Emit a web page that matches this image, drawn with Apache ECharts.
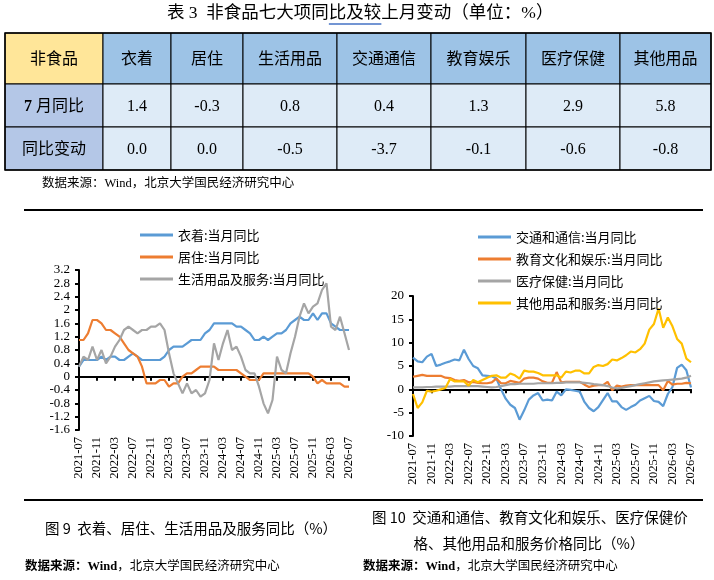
<!DOCTYPE html>
<html><head><meta charset="utf-8">
<script src="https://cdn.jsdelivr.net/npm/echarts@6/dist/echarts.min.js"></script>
<style>html,body{margin:0;padding:0;background:#fff}#c{width:714px;height:580px}</style>
</head><body><div id="c"></div>
<script>
// ---------- data ----------
const tableCols = ['非食品','衣着','居住','生活用品','交通通信','教育娱乐','医疗保健','其他用品'];
const rowLabels = ['{b|7} 月同比','同比变动'];
const yoyValues = ['1.4','-0.3','0.8','0.4','1.3','2.9','5.8'];
const changeValues = ['0.0','0.0','-0.5','-3.7','-0.1','-0.6','-0.8'];

const months = [];
for (let y = 2021, m = 7; !(y === 2026 && m > 7);) {
  months.push(y + '-' + String(m).padStart(2, '0'));
  m++; if (m > 12) { m = 1; y++; }
}

const leftNames = ['衣着:当月同比','居住:当月同比','生活用品及服务:当月同比'];
const clothing = [0.3,0.5,0.5,0.5,0.5,0.6,0.5,0.6,0.6,0.5,
  0.5,0.6,0.7,0.6,0.5,0.5,0.5,0.5,0.5,0.6,
  0.8,0.9,0.9,0.9,1.0,1.1,1.1,1.1,1.3,1.4,
  1.6,1.6,1.6,1.6,1.6,1.5,1.5,1.4,1.3,1.1,
  1.1,1.2,1.1,1.2,1.3,1.3,1.4,1.6,1.7,1.8,
  1.7,1.7,1.9,1.7,1.9,1.9,1.6,1.5,1.4,1.4,1.4];
const housing = [1.1,1.1,1.3,1.7,1.7,1.6,1.4,1.4,1.3,1.2,
  1.0,0.8,0.7,0.6,0.3,-0.2,-0.2,-0.2,-0.1,-0.1,
  -0.3,-0.2,-0.2,0.0,0.1,0.1,0.2,0.3,0.3,0.3,
  0.3,0.2,0.2,0.2,0.2,0.2,0.1,0.0,-0.1,-0.1,
  -0.1,0.1,0.1,0.1,0.1,0.1,0.1,0.1,0.1,0.1,
  0.1,0.1,0.0,-0.2,-0.1,-0.2,-0.2,-0.2,-0.2,-0.3,-0.3];
const household = [0.3,0.6,0.5,0.9,0.5,0.8,0.4,0.6,0.9,1.1,
  1.4,1.5,1.4,1.3,1.4,1.4,1.5,1.5,1.6,1.4,
  0.7,0.1,-0.2,-0.5,-0.2,-0.5,-0.4,-0.6,-0.5,-0.1,
  1.0,0.5,1.0,1.4,0.8,0.9,0.6,0.2,0.1,0.1,
  -0.3,-0.8,-1.1,-0.7,0.6,0.2,0.1,0.7,1.2,1.8,
  2.2,1.9,2.1,2.2,2.6,2.8,1.5,1.4,1.8,1.3,0.8];

const rightNames = ['交通和通信:当月同比','教育文化和娱乐:当月同比','医疗保健:当月同比','其他用品和服务:当月同比'];
const transport = [6.8,6.0,5.8,7.0,7.6,5.0,5.3,5.7,6.0,6.4,
  6.2,8.5,6.5,5.0,4.5,3.0,2.9,2.8,2.3,0.0,
  -2.0,-3.3,-4.0,-6.5,-4.5,-2.2,-1.3,-0.8,-2.4,-2.2,
  -2.4,-0.5,-1.3,0.0,-0.1,-0.3,-0.5,-2.7,-4.0,-4.7,
  -3.8,-2.3,-0.8,-2.6,-2.6,-3.8,-4.4,-3.8,-3.3,-2.4,
  -1.9,-1.4,-2.5,-2.7,-3.6,-1.0,0.5,4.6,5.3,4.1,0.4];
const education = [2.7,2.9,3.1,2.9,2.9,2.9,2.9,2.5,2.4,2.0,
  1.8,2.0,1.5,1.6,1.4,1.3,1.3,1.5,2.3,1.3,
  1.3,1.8,1.6,1.4,2.3,2.5,2.5,2.3,1.7,1.4,
  1.4,3.7,1.5,1.6,1.6,1.6,1.6,1.0,0.5,0.8,
  0.9,0.9,1.6,-0.2,0.8,0.6,0.8,0.9,0.9,0.9,
  0.9,0.9,0.9,0.9,-0.2,1.8,1.0,1.2,1.2,1.4,1.3];
const health = [0.4,0.4,0.4,0.5,0.5,0.6,0.6,0.6,0.6,0.7,
  0.7,0.7,0.7,0.7,0.7,0.6,0.5,0.4,0.5,0.7,
  0.9,1.1,1.1,1.2,1.2,1.2,1.2,1.3,1.3,1.3,
  1.3,1.4,1.4,1.5,1.5,1.5,1.5,1.4,1.3,1.1,
  1.0,0.9,0.7,0.4,0.2,0.3,0.5,0.7,0.9,1.1,
  1.3,1.5,1.7,1.8,1.9,2.0,2.1,2.2,2.3,2.5,2.9];
const others = [-1.0,-4.0,-2.8,-0.3,-0.5,-0.3,0.0,0.3,2.2,1.7,
  1.7,1.7,0.8,2.0,1.5,2.0,2.5,2.9,3.0,2.5,
  2.5,3.4,3.0,2.3,4.0,3.8,3.8,3.5,3.0,3.0,
  3.0,3.0,2.5,3.8,3.6,4.0,4.0,3.4,3.4,4.8,
  5.2,5.0,5.4,6.4,6.2,6.7,7.3,8.1,7.9,8.6,
  9.8,12.8,14.0,17.3,13.2,15.4,13.5,10.8,9.8,6.6,5.8];

const titlePre = '表 3  非食品七大项同';
const titleUnder = '比及较';
const titlePost = '上月变动（单位：%）';
const sourceText = '数据来源：Wind，北京大学国民经济研究中心';
const caption9 = '图 9  衣着、居住、生活用品及服务同比（%）';
const caption10a = '图 10  交通和通信、教育文化和娱乐、医疗保健价';
const caption10b = '格、其他用品和服务价格同比（%）';

// ---------- layout ----------
const SERIF = '"Liberation Serif","Noto Sans CJK SC"';
const SANS = '"Noto Sans CJK SC","Noto Sans"';
const colX = [5,103,171,243,337,431,526,620,711];
const rowY = [33,84,127,170];
const COLORS = ['#5B9BD5','#ED7D31','#A5A5A5','#FFC000'];

function txt(x, y, text, size, opts) {
  opts = opts || {};
  return {type:'text', x:x, y:y, z:10, style:Object.assign({
    text:text, fill:'#000', fontSize:size, fontFamily:opts.family || SANS,
    fontWeight:opts.weight || 'normal',
    align:opts.align || 'left', textAlign:opts.align || 'left',
    verticalAlign:'middle', textVerticalAlign:'middle'
  }, opts.extra || {})};
}

const g = [];
g.push({type:'rect', shape:{x:0,y:0,width:714,height:580}, style:{fill:'#fff'}, z:0});
// title with underline measured from the text itself
const TITLE_SIZE = 17.5, TITLE_X = 167;
const mctx = document.createElement('canvas').getContext('2d');
mctx.font = TITLE_SIZE + 'px ' + SERIF;
const preW = mctx.measureText(titlePre).width;
const undW = mctx.measureText(titleUnder).width;
g.push(txt(TITLE_X, 13, titlePre + titleUnder + titlePost, TITLE_SIZE, {family:SERIF}));
g.push({type:'line', shape:{x1:TITLE_X + preW, y1:24, x2:TITLE_X + preW + undW, y2:24},
  style:{stroke:'#4472C4', lineWidth:1.5}, z:10});

// table
for (let r = 0; r < 3; r++) {
  for (let c = 0; c < 8; c++) {
    let fill;
    if (r === 0) fill = c === 0 ? '#FFE699' : '#9DC3E6';
    else fill = c === 0 ? '#B4C7E7' : '#DEEBF7';
    g.push({type:'rect', z:5, shape:{x:colX[c], y:rowY[r], width:colX[c+1]-colX[c], height:rowY[r+1]-rowY[r]},
      style:{fill:fill, stroke:'#000', lineWidth:1}});
    let t;
    if (r === 0) t = tableCols[c];
    else if (c === 0) t = rowLabels[r-1];
    else t = (r === 1 ? yoyValues : changeValues)[c-1];
    g.push(txt((colX[c]+colX[c+1])/2, (rowY[r]+rowY[r+1])/2 + 1, t, 16,
      {align:'center', family:SERIF,
       extra:{rich:{b:{fontWeight:'bold', fontSize:16, fontFamily:SERIF, fill:'#000'}}}}));
  }
}
g.push({type:'rect', z:6, shape:{x:colX[0], y:rowY[0], width:colX[8]-colX[0], height:rowY[3]-rowY[0]},
  style:{fill:'none', stroke:'#000', lineWidth:1.5}});
g.push(txt(42, 184, sourceText, 12.5, {family:SERIF}));

// divider lines
g.push({type:'line', shape:{x1:24,y1:210,x2:703,y2:210}, style:{stroke:'#000', lineWidth:2}, z:10});
g.push({type:'line', shape:{x1:24,y1:500,x2:703,y2:500}, style:{stroke:'#000', lineWidth:2}, z:10});

// captions
g.push(txt(191, 528, caption9, 14.5, {align:'center'}));
g.push(txt(372, 517, caption10a, 14.5));
g.push(txt(529, 543, caption10b, 14.5, {align:'center'}));
function src(x, y) {
  return {type:'text', x:x, y:y, z:10, style:{
    text:'{b|数据来源：Wind}{n|，北京大学国民经济研究中心}',
    rich:{b:{fontWeight:'bold', fontSize:12.5, fontFamily:SERIF, fill:'#000'},
          n:{fontWeight:'normal', fontSize:12.5, fontFamily:SERIF, fill:'#000'}},
    verticalAlign:'middle', textVerticalAlign:'middle', fill:'#000'}};
}
g.push(src(25, 567));
g.push(src(363, 567));

// ---------- chart ----------
function zeroAxis(gi) {
  return {gridIndex:gi, type:'category', data:months, boundaryGap:false, position:'bottom',
    axisLine:{show:true, onZero:true, lineStyle:{color:'#000', width:2}},
    axisTick:{show:true, interval:3, length:4, lineStyle:{color:'#000', width:2}},
    axisLabel:{show:false}, splitLine:{show:false}};
}
function labelAxis(gi) {
  return {gridIndex:gi, type:'category', data:months, boundaryGap:false, position:'bottom',
    axisLine:{show:false, onZero:false}, axisTick:{show:false}, splitLine:{show:false},
    axisLabel:{show:true, interval:3, rotate:90, margin:7, color:'#000', fontSize:12.5, fontFamily:'"Liberation Serif"'}};
}
function valAxis(gi, min, max, interval, margin) {
  return {gridIndex:gi, type:'value', min:min, max:max, interval:interval,
    axisLine:{show:true, lineStyle:{color:'#000', width:2}},
    axisTick:{show:true, length:4, lineStyle:{color:'#000', width:2}},
    axisLabel:{color:'#000', fontSize:13, fontFamily:'"Liberation Serif"', margin:margin},
    splitLine:{show:false}};
}
function lineSeries(name, data, xi, yi, color) {
  return {name:name, type:'line', data:data, xAxisIndex:xi, yAxisIndex:yi, showSymbol:false, symbol:'none',
    lineStyle:{color:color, width:2.2}, itemStyle:{color:color}, z:3};
}
const legendBase = {orient:'vertical', itemWidth:33, itemHeight:3, icon:'rect', itemGap:8, padding:0,
  textStyle:{fontSize:13, lineHeight:14, fontFamily:SANS, color:'#000'}, selectedMode:false};

const option = {
  animation:false,
  backgroundColor:'#fff',
  graphic:{elements:g},
  grid:[{left:79, top:270, width:270, height:160}, {left:413, top:296, width:278, height:140}],
  xAxis:[zeroAxis(0), labelAxis(0), zeroAxis(1), labelAxis(1)],
  yAxis:[valAxis(0, -1.6, 3.2, 0.4, 9), valAxis(1, -10, 20, 5, 9)],
  legend:[
    Object.assign({}, legendBase, {data:leftNames, left:140, top:228}),
    Object.assign({}, legendBase, {data:rightNames, left:478, top:230})
  ],
  series:[
    lineSeries(leftNames[0], clothing, 0, 0, COLORS[0]),
    lineSeries(leftNames[1], housing, 0, 0, COLORS[1]),
    lineSeries(leftNames[2], household, 0, 0, COLORS[2]),
    lineSeries(rightNames[0], transport, 2, 1, COLORS[0]),
    lineSeries(rightNames[1], education, 2, 1, COLORS[1]),
    lineSeries(rightNames[2], health, 2, 1, COLORS[2]),
    lineSeries(rightNames[3], others, 2, 1, COLORS[3])
  ]
};
const chart = echarts.init(document.getElementById('c'));
chart.setOption(option);
</script></body></html>
